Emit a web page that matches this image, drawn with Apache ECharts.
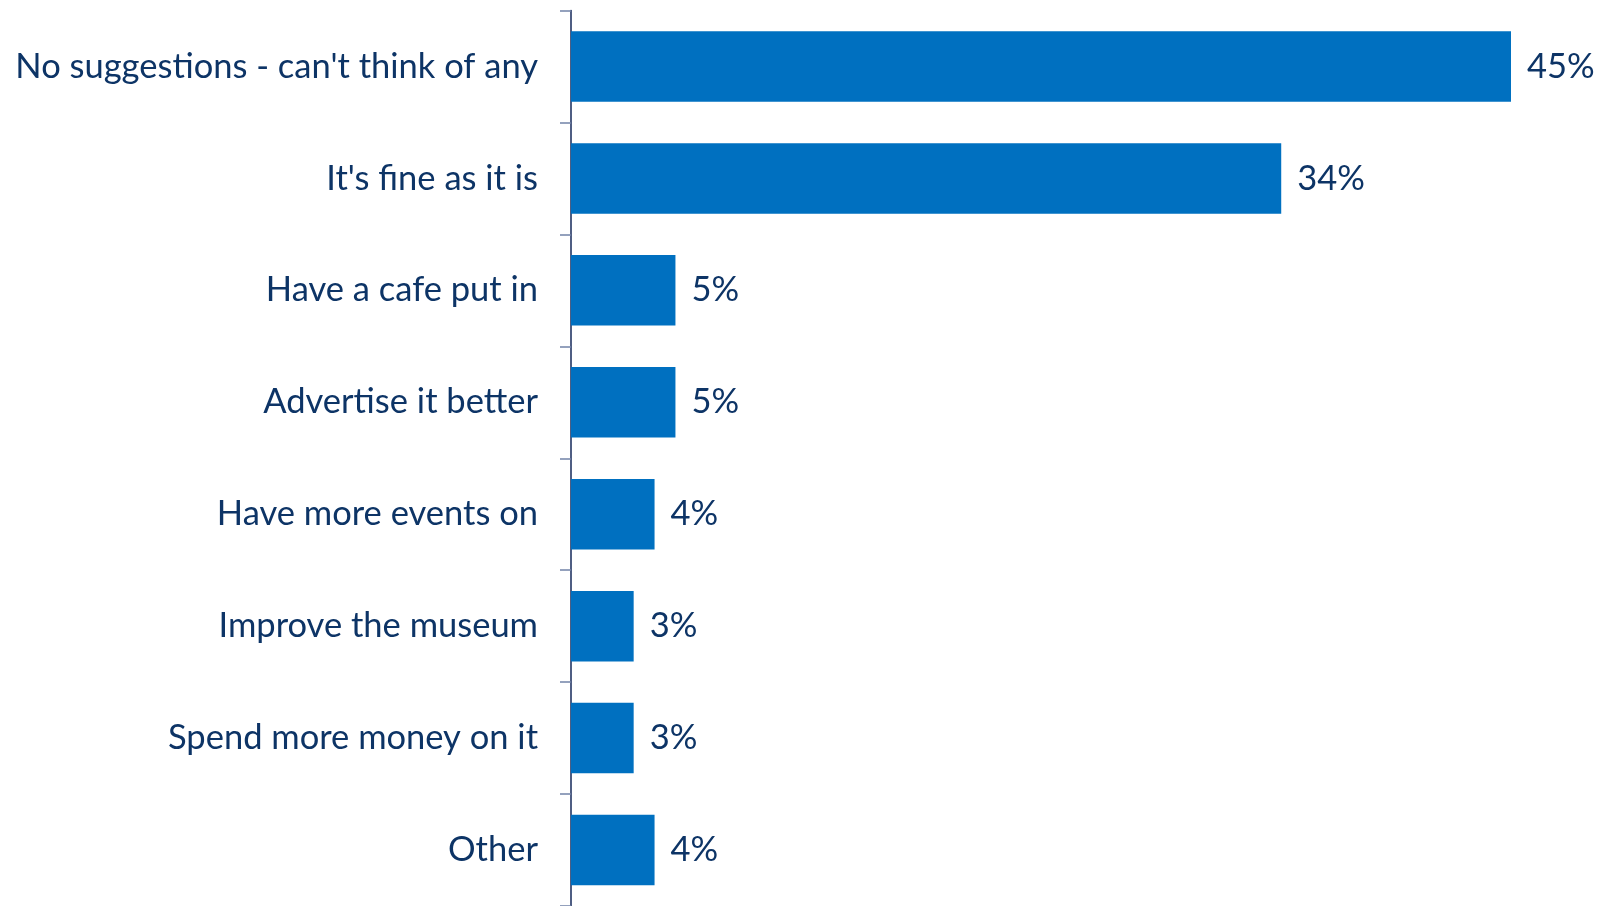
<!DOCTYPE html>
<html>
<head>
<meta charset="utf-8">
<script src="https://cdn.jsdelivr.net/npm/echarts@6/dist/echarts.min.js"></script>
<style>
  html, body { margin: 0; padding: 0; background: #ffffff; }
  #chart { width: 1601px; height: 906px; }
</style>
</head>
<body>
<div id="chart"></div>
<script>
// Suggestions for improvement, share of respondents (%)
const categories = [
  "No suggestions - can't think of any",
  "It's fine as it is",
  "Have a cafe put in",
  "Advertise it better",
  "Have more events on",
  "Improve the museum",
  "Spend more money on it",
  "Other"
];
const values = [45, 34, 5, 5, 4, 3, 3, 4];

const textColor = '#0d3466';
const fontFamily = 'Lato, "Open Sans", sans-serif';

const chart = echarts.init(document.getElementById('chart'), null, { renderer: 'canvas' });
chart.setOption({
  animation: false,
  grid: { left: 571, top: 10.5, width: 940, height: 899, containLabel: false },
  xAxis: {
    type: 'value', min: 0, max: 45,
    show: false
  },
  yAxis: {
    type: 'category',
    inverse: true,
    data: categories,
    axisLine: { show: true, lineStyle: { color: '#14285a', width: 1.5 } },
    axisTick: { show: true, length: 11, lineStyle: { color: '#7283a8', width: 1.5 } },
    axisLabel: { margin: 33, color: textColor, fontSize: 34.5, fontFamily: fontFamily }
  },
  series: [{
    type: 'bar',
    data: values,
    barCategoryGap: '37%',
    itemStyle: { color: '#0070c0' },
    label: {
      show: true, position: 'right', distance: 16,
      formatter: '{c}%', color: textColor, fontSize: 34.5, fontFamily: fontFamily
    }
  }]
});
</script>
</body>
</html>
